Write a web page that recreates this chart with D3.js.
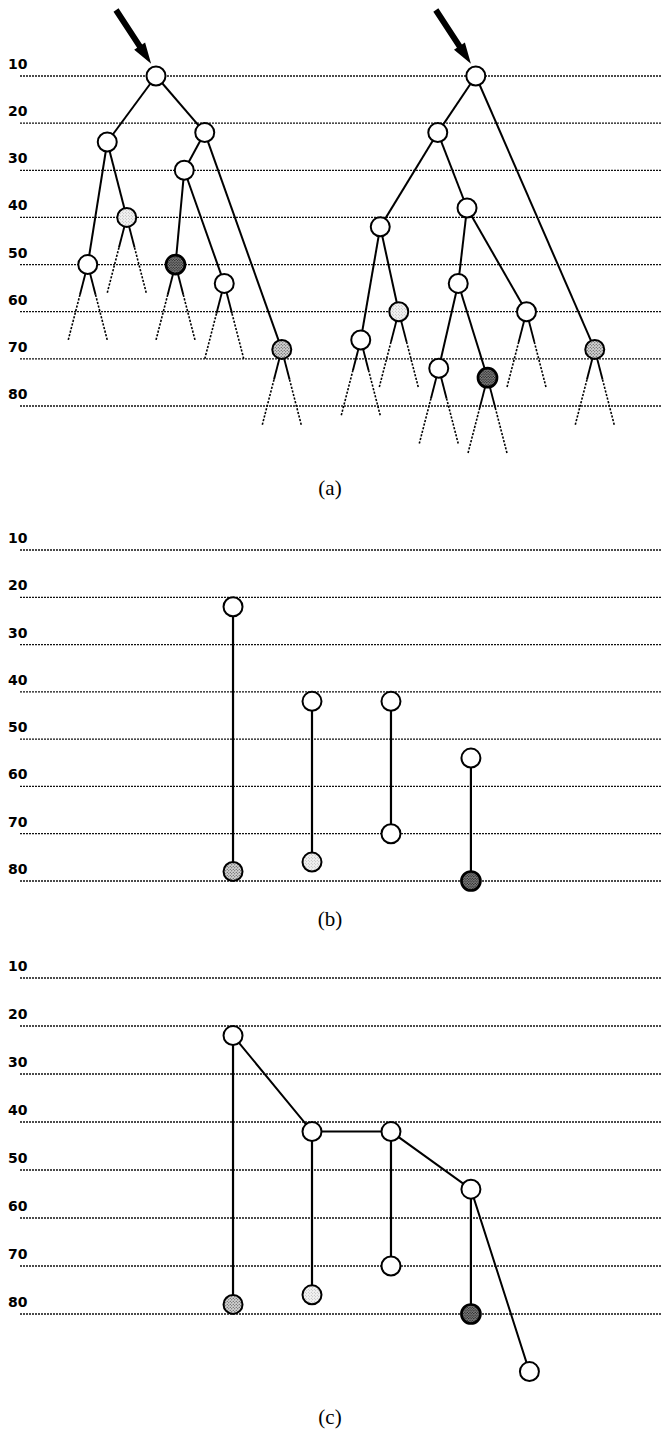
<!DOCTYPE html>
<html>
<head>
<meta charset="utf-8">
<script src="https://cdn.jsdelivr.net/npm/d3@7"></script>
<style>
  html, body { margin: 0; padding: 0; background: #fff; }
  svg { display: block; }
</style>
</head>
<body>
<div id="chart"></div>
<script>
// depth levels drawn as dotted guide lines
const depthTicks = [10, 20, 30, 40, 50, 60, 70, 80];

// (a) left tree: col = horizontal slot, depth = level value
const leftTree = [
  { id: 'A', col: 8.0,   depth: 10, kind: 'open',   parent: null },
  { id: 'B', col: 5.5,   depth: 24, kind: 'open',   parent: 'A' },
  { id: 'C', col: 10.5,  depth: 22, kind: 'open',   parent: 'A' },
  { id: 'D', col: 6.5,   depth: 40, kind: 'light',  parent: 'B' },
  { id: 'E', col: 4.5,   depth: 50, kind: 'open',   parent: 'B' },
  { id: 'G', col: 9.45,  depth: 30, kind: 'open',   parent: 'C' },
  { id: 'F', col: 9.0,   depth: 50, kind: 'dark',   parent: 'G' },
  { id: 'H', col: 11.5,  depth: 54, kind: 'open',   parent: 'G' },
  { id: 'I', col: 14.45, depth: 68, kind: 'medium', parent: 'C' }
];

// (a) right tree
const rightTree = [
  { id: 'R',   col: 24.4,  depth: 10, kind: 'open',   parent: null },
  { id: 'R1',  col: 22.45, depth: 22, kind: 'open',   parent: 'R' },
  { id: 'R10', col: 30.5,  depth: 68, kind: 'medium', parent: 'R' },
  { id: 'R2',  col: 19.5,  depth: 42, kind: 'open',   parent: 'R1' },
  { id: 'R3',  col: 23.95, depth: 38, kind: 'open',   parent: 'R1' },
  { id: 'R5',  col: 18.5,  depth: 66, kind: 'open',   parent: 'R2' },
  { id: 'R4',  col: 20.45, depth: 60, kind: 'light',  parent: 'R2' },
  { id: 'R6',  col: 23.5,  depth: 54, kind: 'open',   parent: 'R3' },
  { id: 'R7',  col: 27.0,  depth: 60, kind: 'open',   parent: 'R3' },
  { id: 'R8',  col: 22.5,  depth: 72, kind: 'open',   parent: 'R6' },
  { id: 'R9',  col: 25.0,  depth: 74, kind: 'dark',   parent: 'R6' }
];

// leaf stubs go one slot sideways and this many levels down
const stubSpread = [-1, 1];
const stubDepth = 16;

// arrow pointing at each root (offsets from the root)
const arrowTail = { dcol: -2.05, ddepth: -14 };
const arrowTip = { dcol: -0.25, ddepth: -2.6 };

// (b) and (c) columns
const segCols = [11.95, 16, 20.05, 24.15];
const segTop = [22, 42, 42, 54];
const segBottom = [78, 76, 70, 80];
const segBottomKind = ['medium', 'light', 'open', 'dark'];

// (c) chain through the tops plus one extra node
const chainCols = [11.95, 16, 20.05, 24.15, 27.15];
const chainDepths = [22, 42, 42, 54, 92];
const chainKinds = ['open', 'open', 'open', 'open', 'open'];

const captions = ['(a)', '(b)', '(c)'];

const W = 661, H = 1432;
const panels = [
  { top: 76,  bottom: 406,  caption: 495 },
  { top: 550, bottom: 881,  caption: 926 },
  { top: 978, bottom: 1314, caption: 1424 }
];

const svg = d3.select('#chart').append('svg')
  .attr('width', W)
  .attr('height', H);

// stipple fills
const defs = svg.append('defs');
function stipple(id, bg, dot, step, r) {
  const p = defs.append('pattern')
    .attr('id', id)
    .attr('patternUnits', 'userSpaceOnUse')
    .attr('width', step)
    .attr('height', step);
  p.append('rect').attr('width', step).attr('height', step).attr('fill', bg);
  p.append('circle').attr('cx', step / 4).attr('cy', step / 4).attr('r', r).attr('fill', dot);
  p.append('circle').attr('cx', step * 3 / 4).attr('cy', step * 3 / 4).attr('r', r).attr('fill', dot);
}
stipple('st-light', '#f2f2f2', '#8a8a8a', 3, 0.45);
stipple('st-medium', '#d2d2d2', '#3a3a3a', 3, 0.6);
stipple('st-dark', '#8f8f8f', '#111', 2.6, 0.7);

const fillFor = { open: '#fff', light: 'url(#st-light)', medium: 'url(#st-medium)', dark: 'url(#st-dark)' };

const x = d3.scaleLinear().domain([0, 34]).range([0, 663]);
const R = 9.5;

function drawNodes(g, nodes, y) {
  g.selectAll(null)
    .data(nodes)
    .enter().append('circle')
    .attr('cx', d => x(d.col))
    .attr('cy', d => y(d.depth))
    .attr('r', R)
    .attr('fill', d => fillFor[d.kind])
    .attr('stroke', '#000')
    .attr('stroke-width', d => d.kind === 'dark' ? 2.7 : 2);
}

panels.forEach((p, i) => {
  const y = d3.scaleLinear().domain([10, 80]).range([p.top, p.bottom]);
  const g = svg.append('g');
  p.y = y;
  p.g = g;

  g.selectAll('.grid')
    .data(depthTicks)
    .enter().append('line')
    .attr('x1', 20).attr('x2', W)
    .attr('y1', d => y(d)).attr('y2', d => y(d))
    .attr('stroke', '#111')
    .attr('stroke-width', 1.3)
    .attr('stroke-dasharray', '2,1');

  g.selectAll('.lbl')
    .data(depthTicks)
    .enter().append('text')
    .attr('x', 8)
    .attr('y', d => y(d) - 7)
    .attr('font-family', 'DejaVu Sans, Arial, sans-serif')
    .attr('font-weight', 'bold')
    .attr('font-size', 14)
    .text(d => d);

  svg.append('text')
    .attr('x', 330)
    .attr('y', p.caption)
    .attr('text-anchor', 'middle')
    .attr('font-family', 'Liberation Serif, Times New Roman, serif')
    .attr('font-size', 21)
    .text(captions[i]);
});

// ---- panel (a) ----
const pa = panels[0];
[leftTree, rightTree].forEach(tree => {
  const byId = new Map(tree.map(d => [d.id, d]));
  const parents = new Set(tree.map(d => d.parent));
  const leaves = tree.filter(d => !parents.has(d.id));

  // stubs: solid near the node, dashed further out
  leaves.forEach(d => {
    stubSpread.forEach(s => {
      const x0 = x(d.col), y0 = pa.y(d.depth);
      const x1 = x(d.col + s), y1 = pa.y(d.depth + stubDepth);
      const t = 0.4;
      const xm = x0 + (x1 - x0) * t, ym = y0 + (y1 - y0) * t;
      pa.g.append('line')
        .attr('x1', x0).attr('y1', y0).attr('x2', xm).attr('y2', ym)
        .attr('stroke', '#000').attr('stroke-width', 1.9);
      pa.g.append('line')
        .attr('x1', xm).attr('y1', ym).attr('x2', x1).attr('y2', y1)
        .attr('stroke', '#000').attr('stroke-width', 1.6)
        .attr('stroke-dasharray', '2.2,1.5');
    });
  });

  pa.g.selectAll(null)
    .data(tree.filter(d => d.parent))
    .enter().append('line')
    .attr('x1', d => x(byId.get(d.parent).col))
    .attr('y1', d => pa.y(byId.get(d.parent).depth))
    .attr('x2', d => x(d.col))
    .attr('y2', d => pa.y(d.depth))
    .attr('stroke', '#000')
    .attr('stroke-width', 2);

  drawNodes(pa.g, tree, pa.y);

  // arrow to the root
  const root = tree.find(d => !d.parent);
  const sx = x(root.col + arrowTail.dcol), sy = pa.y(root.depth + arrowTail.ddepth);
  const tx = x(root.col + arrowTip.dcol), ty = pa.y(root.depth + arrowTip.ddepth);
  const len = Math.hypot(tx - sx, ty - sy);
  const ux = (tx - sx) / len, uy = (ty - sy) / len;
  const nx = -uy, ny = ux;
  const sw = 3, hw = 6.5, hl = 21;
  const hx = tx - ux * hl, hy = ty - uy * hl;
  const pts = [
    [sx + nx * sw, sy + ny * sw],
    [hx + nx * sw, hy + ny * sw],
    [hx + nx * hw, hy + ny * hw],
    [tx, ty],
    [hx - nx * hw, hy - ny * hw],
    [hx - nx * sw, hy - ny * sw],
    [sx - nx * sw, sy - ny * sw]
  ];
  pa.g.append('polygon')
    .attr('points', pts.map(p => p.join(',')).join(' '))
    .attr('fill', '#000');
});

// ---- panels (b) and (c): vertical segments ----
[panels[1], panels[2]].forEach(p => {
  p.g.selectAll(null)
    .data(segCols)
    .enter().append('line')
    .attr('x1', d => x(d)).attr('x2', d => x(d))
    .attr('y1', (d, i) => p.y(segTop[i]))
    .attr('y2', (d, i) => p.y(segBottom[i]))
    .attr('stroke', '#000')
    .attr('stroke-width', 2.2);
});

// (c) chain
const pc = panels[2];
const chain = chainCols.map((c, i) => ({ col: c, depth: chainDepths[i], kind: chainKinds[i] }));
pc.g.append('path')
  .attr('d', d3.line().x(d => x(d.col)).y(d => pc.y(d.depth))(chain))
  .attr('fill', 'none')
  .attr('stroke', '#000')
  .attr('stroke-width', 2);

[panels[1], panels[2]].forEach(p => {
  const tops = segCols.map((c, i) => ({ col: c, depth: segTop[i], kind: 'open' }));
  const bottoms = segCols.map((c, i) => ({ col: c, depth: segBottom[i], kind: segBottomKind[i] }));
  drawNodes(p.g, tops.concat(bottoms), p.y);
});
drawNodes(pc.g, chain.slice(-1), pc.y);
</script>
</body>
</html>
